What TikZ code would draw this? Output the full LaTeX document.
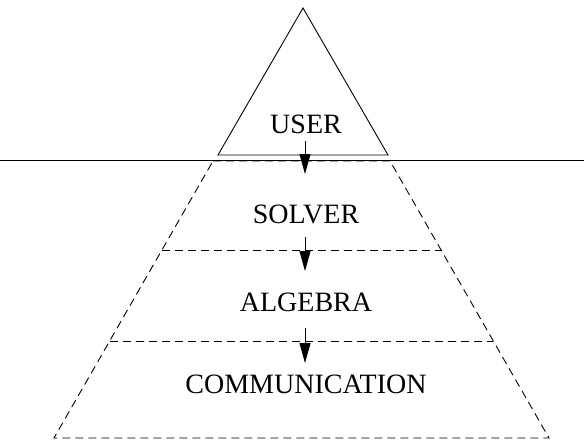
\documentclass[tikz,border=0pt]{standalone}
\usepackage{fontspec}
\setmainfont{Liberation Serif}
\usetikzlibrary{arrows.meta}
\begin{document}
\begin{tikzpicture}[x=1pt,y=-1pt,
  layer/.style={draw,line width=0.9pt,dash pattern=on 8pt off 5pt},
  solidline/.style={draw,line width=0.9pt},
  lbl/.style={inner sep=0pt,font=\fontsize{28}{30}\selectfont},
  flow/.style={line width=0.9pt,-{Triangle[length=20pt,width=11pt]}}]
\useasboundingbox (0,0) rectangle (584,444);
% trapezoid corners
\coordinate (tl) at (213,161);
\coordinate (tr) at (390,161);
\coordinate (bl) at (54,438);
\coordinate (br) at (549,438);
\coordinate (l1) at (162,250);
\coordinate (r1) at (441,250);
\coordinate (l2) at (110,341);
\coordinate (r2) at (493,341);
\draw[layer] (tl) -- (tr) -- (br) -- (bl) -- cycle;
\draw[layer] (l1) -- (r1);
\draw[layer] (l2) -- (r2);
% ground line
\coordinate (gl) at (0,160);
\coordinate (gr) at (584,160);
\draw[solidline] (gl) -- (gr);
% user triangle
\coordinate (apex) at (303,8);
\coordinate (ubl) at (218,155);
\coordinate (ubr) at (388,155);
\draw[solidline,line join=miter] (apex) -- (ubr) -- (ubl) -- cycle;
% labels
\node[lbl] (user) at (306,124) {USER};
\node[lbl] (solver) at (306,214) {SOLVER};
\node[lbl] (algebra) at (306,302) {ALGEBRA};
\node[lbl] (comm) at (306,384) {COMMUNICATION};
% arrows
\coordinate (a1s) at (305,141);
\coordinate (a1e) at (305,174);
\coordinate (a2s) at (305,237);
\coordinate (a2e) at (305,271);
\coordinate (a3s) at (305,328);
\coordinate (a3e) at (305,363);
\draw[flow] (a1s) -- (a1e);
\draw[flow] (a2s) -- (a2e);
\draw[flow] (a3s) -- (a3e);
\end{tikzpicture}
\end{document}
